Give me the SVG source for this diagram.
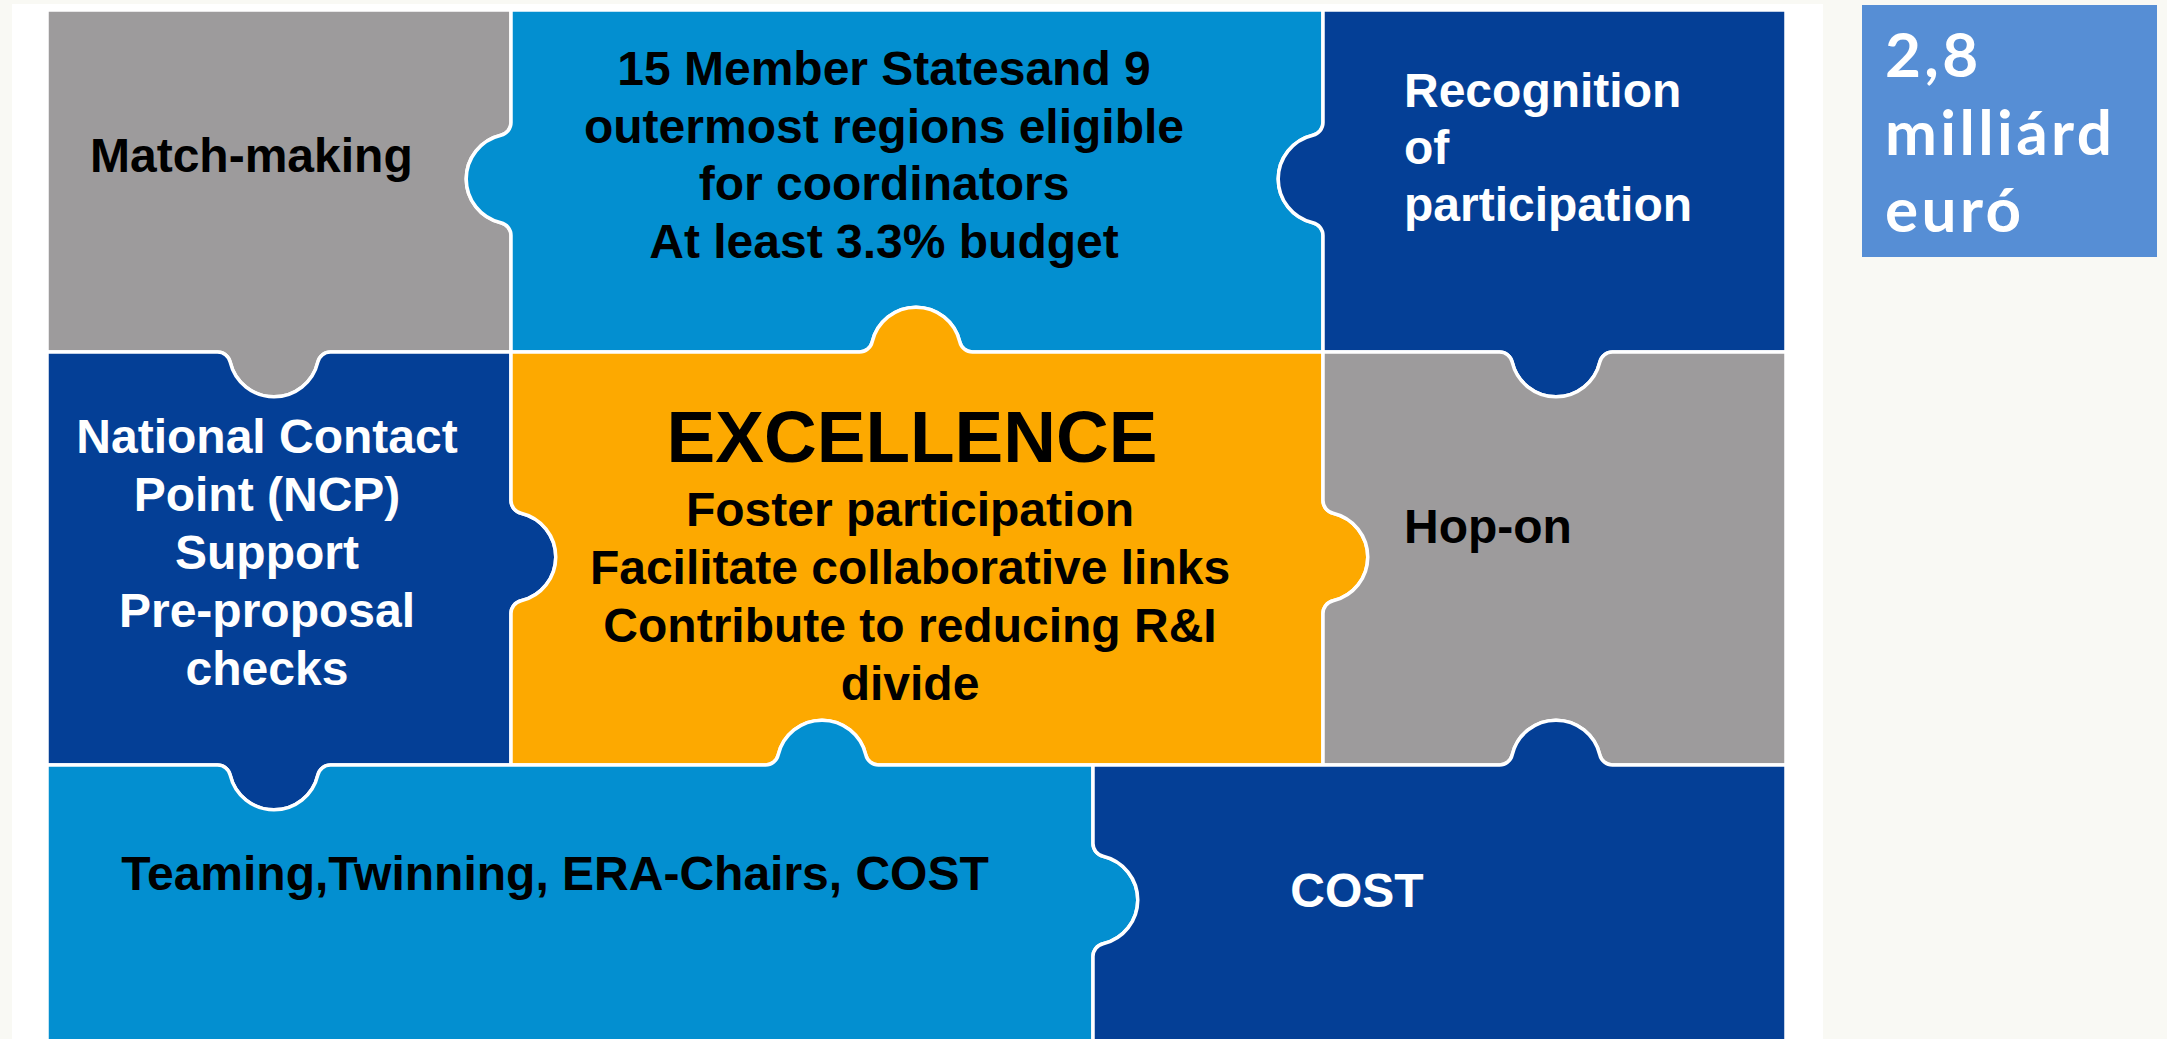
<svg xmlns="http://www.w3.org/2000/svg" width="2167" height="1039" viewBox="0 0 2167 1039">
<style>
.pc{stroke:#ffffff;stroke-width:3.5;stroke-linejoin:round}
.gray{fill:#9d9b9c}
.lblue{fill:#038fd0}
.dblue{fill:#043f96}
.orange{fill:#fda900}
.t{font-family:"Liberation Sans",Arial,sans-serif;font-weight:bold;font-size:48px}
.k{fill:#000000}
.w{fill:#ffffff}
.c{text-anchor:middle}
.big{font-family:Lato,"Open Sans",sans-serif;font-weight:bold;font-size:62px;letter-spacing:3.4px;fill:#ffffff}
</style>
<rect x="0" y="0" width="2167" height="1039" fill="#f9f9f4"/>
<rect x="12" y="4" width="1811" height="1040" fill="#ffffff"/>

<g id="match-making">
<path class="pc gray" d="M47,10 L511,10 L511,122.5 A13,13 0 0 1 500.9,135.2 A45,45 0 0 0 500.9,222.8 A13,13 0 0 1 511,235.5 L511,352 L330.5,352 A13,13 0 0 0 317.8,362.1 A45,45 0 0 1 230.2,362.1 A13,13 0 0 0 217.5,352 L47,352 Z"/>
<text class="t k" x="90" y="172">Match-making</text>
</g>

<g id="member-states">
<path class="pc lblue" d="M511,10 L1323,10 L1323,122.5 A13,13 0 0 1 1312.9,135.2 A45,45 0 0 0 1312.9,222.8 A13,13 0 0 1 1323,235.5 L1323,352 L972.5,352 A13,13 0 0 1 959.8,341.9 A45,45 0 0 0 872.2,341.9 A13,13 0 0 1 859.5,352 L511,352 L511,235.5 A13,13 0 0 0 500.9,222.8 A45,45 0 0 1 500.9,135.2 A13,13 0 0 0 511,122.5 Z"/>
<text class="t k c" x="884" y="85">15 Member Statesand 9</text>
<text class="t k c" x="884" y="143">outermost regions eligible</text>
<text class="t k c" x="884" y="200">for coordinators</text>
<text class="t k c" x="884" y="258">At least 3.3% budget</text>
</g>

<g id="recognition">
<path class="pc dblue" d="M1323,10 L1786,10 L1786,352 L1612.5,352 A13,13 0 0 0 1599.8,362.1 A45,45 0 0 1 1512.2,362.1 A13,13 0 0 0 1499.5,352 L1323,352 L1323,235.5 A13,13 0 0 0 1312.9,222.8 A45,45 0 0 1 1312.9,135.2 A13,13 0 0 0 1323,122.5 Z"/>
<text class="t w" x="1404" y="107">Recognition</text>
<text class="t w" x="1404" y="164">of</text>
<text class="t w" x="1404" y="221">participation</text>
</g>

<g id="ncp">
<path class="pc dblue" d="M47,352 L217.5,352 A13,13 0 0 1 230.2,362.1 A45,45 0 0 0 317.8,362.1 A13,13 0 0 1 330.5,352 L511,352 L511,500.5 A13,13 0 0 0 521.1,513.2 A45,45 0 0 1 521.1,600.8 A13,13 0 0 0 511,613.5 L511,765 L330.5,765 A13,13 0 0 0 317.8,775.1 A45,45 0 0 1 230.2,775.1 A13,13 0 0 0 217.5,765 L47,765 Z"/>
<text class="t w c" x="267" y="453">National Contact</text>
<text class="t w c" x="267" y="511">Point (NCP)</text>
<text class="t w c" x="267" y="569">Support</text>
<text class="t w c" x="267" y="627">Pre-proposal</text>
<text class="t w c" x="267" y="685">checks</text>
</g>

<g id="excellence">
<path class="pc orange" d="M511,352 L859.5,352 A13,13 0 0 0 872.2,341.9 A45,45 0 0 1 959.8,341.9 A13,13 0 0 0 972.5,352 L1323,352 L1323,500.5 A13,13 0 0 0 1333.1,513.2 A45,45 0 0 1 1333.1,600.8 A13,13 0 0 0 1323,613.5 L1323,765 L878.5,765 A13,13 0 0 1 865.8,754.9 A45,45 0 0 0 778.2,754.9 A13,13 0 0 1 765.5,765 L511,765 L511,613.5 A13,13 0 0 1 521.1,600.8 A45,45 0 0 0 521.1,513.2 A13,13 0 0 1 511,500.5 Z"/>
<text class="t k c" x="912" y="462" style="font-size:73px">EXCELLENCE</text>
<text class="t k c" x="910" y="526">Foster participation</text>
<text class="t k c" x="910" y="584">Facilitate collaborative links</text>
<text class="t k c" x="910" y="642">Contribute to reducing R&amp;I</text>
<text class="t k c" x="910" y="700">divide</text>
</g>

<g id="hop-on">
<path class="pc gray" d="M1323,352 L1499.5,352 A13,13 0 0 1 1512.2,362.1 A45,45 0 0 0 1599.8,362.1 A13,13 0 0 1 1612.5,352 L1786,352 L1786,765 L1612.5,765 A13,13 0 0 1 1599.8,754.9 A45,45 0 0 0 1512.2,754.9 A13,13 0 0 1 1499.5,765 L1323,765 L1323,613.5 A13,13 0 0 1 1333.1,600.8 A45,45 0 0 0 1333.1,513.2 A13,13 0 0 1 1323,500.5 Z"/>
<text class="t k" x="1404" y="543">Hop-on</text>
</g>

<g id="teaming">
<path class="pc lblue" d="M47,765 L217.5,765 A13,13 0 0 1 230.2,775.1 A45,45 0 0 0 317.8,775.1 A13,13 0 0 1 330.5,765 L765.5,765 A13,13 0 0 0 778.2,754.9 A45,45 0 0 1 865.8,754.9 A13,13 0 0 0 878.5,765 L1093,765 L1093,843.5 A13,13 0 0 0 1103.1,856.2 A45,45 0 0 1 1103.1,943.8 A13,13 0 0 0 1093,956.5 L1093,1050 L47,1050 Z"/>
<text class="t k c" x="555" y="890">Teaming,Twinning, ERA-Chairs, COST</text>
</g>

<g id="cost">
<path class="pc dblue" d="M1093,765 L1499.5,765 A13,13 0 0 0 1512.2,754.9 A45,45 0 0 1 1599.8,754.9 A13,13 0 0 0 1612.5,765 L1786,765 L1786,1050 L1093,1050 L1093,956.5 A13,13 0 0 1 1103.1,943.8 A45,45 0 0 0 1103.1,856.2 A13,13 0 0 1 1093,843.5 Z"/>
<text class="t w c" x="1357" y="907">COST</text>
</g>

<g id="budget">
<rect x="1862" y="5" width="295" height="252" fill="#568ed5"/>
<text class="big" x="1885" y="77">2,8</text>
<text class="big" x="1885" y="155">milliárd</text>
<text class="big" x="1885" y="232">euró</text>
</g>

<g id="connectors"></g>
</svg>
